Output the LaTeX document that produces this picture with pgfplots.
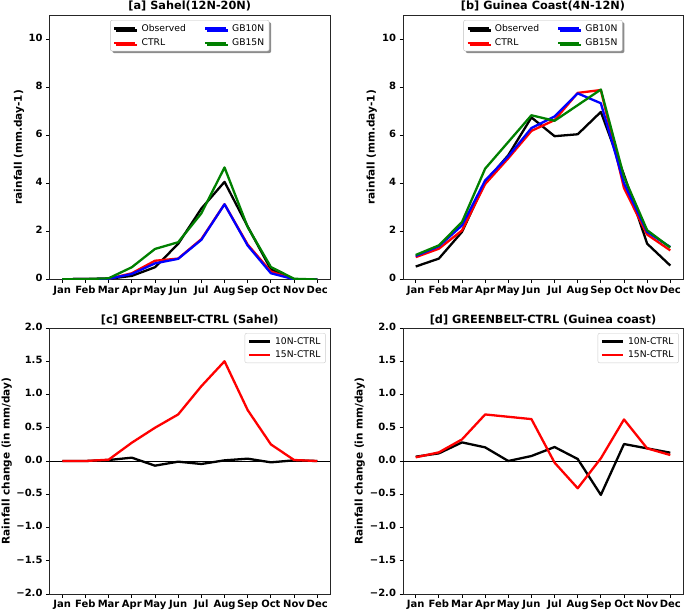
\documentclass[border=0pt]{standalone}
\usepackage{pgfplots}
\pgfplotsset{compat=1.18}
\usepackage{fontspec}
\setmainfont{DejaVu Sans}
\usetikzlibrary{shadows}
\definecolor{mgreen}{RGB}{0,128,0}

\pgfplotsset{
  every axis title shift=0pt,
  base/.style={
    scale only axis,
    xmin=-0.55, xmax=11.55,
    xtick={0,1,2,3,4,5,6,7,8,9,10,11},
    xticklabels={Jan,Feb,Mar,Apr,May,Jun,Jul,Aug,Sep,Oct,Nov,Dec},
    typeset ticklabels with strut,
    tick align=outside, xtick pos=bottom, ytick pos=left,
    major tick length=3.5pt,
    tick style={black, line width=0.8pt},
    axis line style={black!85, line width=0.8pt},
    /pgf/number format/assume math mode=true,
    tick label style={font=\fontsize{10}{12}\selectfont\bfseries},
    xticklabel style={yshift=1.5pt},
    label style={font=\fontsize{10.5}{12}\selectfont\bfseries},
    title style={font=\fontsize{11.3}{13}\selectfont\bfseries, at={(0.5,1)}, anchor=base, yshift=5pt},
    legend cell align=left,
    legend image code/.code={\draw[##1] (0pt,0pt) -- (21pt,0pt);},
    every axis plot/.append style={line width=2.3pt, line join=round},
  },
  toplegend/.style={
    legend columns=2,
    legend style={at={(0.5,0.981)}, anchor=north, draw=black!25, fill=white,
      rounded corners=2pt, font=\fontsize{9.2}{11}\selectfont,
      row sep=2pt,
      /tikz/every odd column/.append style={column sep=3pt},
      /tikz/every even column/.append style={column sep=16pt},
      drop shadow={shadow xshift=2pt, shadow yshift=-2pt, fill=black!45, opacity=1}},
  },
  botlegend/.style={
    legend style={at={(0.985,0.981)}, anchor=north east, draw=black!20, fill=white,
      rounded corners=2pt, font=\fontsize{9.2}{11}\selectfont, row sep=1pt,
      /tikz/every odd column/.append style={column sep=2pt}},
  },
}

\begin{document}
\begin{tikzpicture}
\useasboundingbox (0,0) rectangle (685pt,611pt);

% ---------------- [a] Sahel
\begin{axis}[base, toplegend,
  at={(49.5pt,331.5pt)}, anchor=south west, width=280.5pt, height=264.5pt,
  ymin=0, ymax=11, ytick={0,2,4,6,8,10},
  title={[a] Sahel(12N-20N)},
  ylabel={rainfall (mm.day-1)},
  ylabel style={at={(axis description cs:-0.109,0.5)}, anchor=center},
]
\addlegendimage{black, line width=2.3pt}
\addlegendimage{blue, line width=2.3pt}
\addlegendimage{red, line width=2.3pt}
\addlegendimage{mgreen, line width=2.3pt}
\addplot[black, forget plot] coordinates {(0,0.01) (1,0.02) (2,0.03) (3,0.15) (4,0.51) (5,1.48) (6,2.95) (7,4.06) (8,2.2) (9,0.42) (10,0.01) (11,0.0)};
\addplot[red, forget plot] coordinates {(0,0.01) (1,0.02) (2,0.03) (3,0.26) (4,0.78) (5,0.87) (6,1.68) (7,3.13) (8,1.45) (9,0.33) (10,0.01) (11,0.0)};
\addplot[blue, forget plot] coordinates {(0,0.01) (1,0.02) (2,0.03) (3,0.23) (4,0.67) (5,0.86) (6,1.65) (7,3.13) (8,1.41) (9,0.26) (10,0.01) (11,0.0)};
\addplot[mgreen, forget plot] coordinates {(0,0.01) (1,0.02) (2,0.05) (3,0.51) (4,1.27) (5,1.55) (6,2.75) (7,4.66) (8,2.18) (9,0.52) (10,0.03) (11,0.0)};
\legend{Observed, GB10N, CTRL, GB15N}
\end{axis}

% ---------------- [b] Guinea Coast
\begin{axis}[base, toplegend,
  at={(403pt,331.5pt)}, anchor=south west, width=280pt, height=264.5pt,
  ymin=0, ymax=11, ytick={0,2,4,6,8,10},
  title={[b] Guinea Coast(4N-12N)},
  ylabel={rainfall (mm.day-1)},
  ylabel style={at={(axis description cs:-0.112,0.5)}, anchor=center},
]
\addlegendimage{black, line width=2.3pt}
\addlegendimage{blue, line width=2.3pt}
\addlegendimage{red, line width=2.3pt}
\addlegendimage{mgreen, line width=2.3pt}
\addplot[black, forget plot] coordinates {(0,0.54) (1,0.87) (2,1.98) (3,4.05) (4,5.17) (5,6.74) (6,5.96) (7,6.04) (8,6.97) (9,4.35) (10,1.49) (11,0.58)};
\addplot[red, forget plot] coordinates {(0,0.93) (1,1.28) (2,2.04) (3,3.97) (4,5.04) (5,6.18) (6,6.63) (7,7.76) (8,7.88) (9,3.8) (10,1.87) (11,1.21)};
\addplot[blue, forget plot] coordinates {(0,0.98) (1,1.38) (2,2.25) (3,4.12) (4,5.12) (5,6.3) (6,6.78) (7,7.74) (8,7.33) (9,4.0) (10,1.98) (11,1.35)};
\addplot[mgreen, forget plot] coordinates {(0,1.02) (1,1.42) (2,2.39) (3,4.61) (4,5.72) (5,6.83) (6,6.6) (7,7.25) (8,7.9) (9,4.27) (10,2.05) (11,1.33)};
\legend{Observed, GB10N, CTRL, GB15N}
\end{axis}

% ---------------- [c] GREENBELT-CTRL (Sahel)
\begin{axis}[base, botlegend,
  at={(49.5pt,17pt)}, anchor=south west, width=280.5pt, height=266pt,
  ymin=-2, ymax=2, ytick={-2,-1.5,-1,-0.5,0,0.5,1,1.5,2},
  yticklabels={−2.0,−1.5,−1.0,−0.5,0.0,0.5,1.0,1.5,2.0},
  title={[c] GREENBELT-CTRL (Sahel)},
  ylabel={Rainfall change (in mm/day)},
  ylabel style={at={(axis description cs:-0.152,0.5)}, anchor=center},
]
\addplot[black, line width=0.8pt, forget plot] coordinates {(-0.55,0) (11.55,0)};
\addplot[black] coordinates {(0,0.0) (1,0.0) (2,0.015) (3,0.05) (4,-0.07) (5,-0.01) (6,-0.045) (7,0.01) (8,0.035) (9,-0.02) (10,0.01) (11,0.0)};
\addplot[red] coordinates {(0,0.0) (1,0.0) (2,0.02) (3,0.275) (4,0.5) (5,0.7) (6,1.125) (7,1.5) (8,0.765) (9,0.25) (10,0.015) (11,0.0)};
\legend{10N-CTRL, 15N-CTRL}
\end{axis}

% ---------------- [d] GREENBELT-CTRL (Guinea coast)
\begin{axis}[base, botlegend,
  at={(403pt,17pt)}, anchor=south west, width=280pt, height=266pt,
  ymin=-2, ymax=2, ytick={-2,-1.5,-1,-0.5,0,0.5,1,1.5,2},
  yticklabels={−2.0,−1.5,−1.0,−0.5,0.0,0.5,1.0,1.5,2.0},
  title={[d] GREENBELT-CTRL (Guinea coast)},
  ylabel={Rainfall change (in mm/day)},
  ylabel style={at={(axis description cs:-0.154,0.5)}, anchor=center},
]
\addplot[black, line width=0.8pt, forget plot] coordinates {(-0.55,0) (11.55,0)};
\addplot[black] coordinates {(0,0.065) (1,0.115) (2,0.28) (3,0.205) (4,0.0) (5,0.075) (6,0.21) (7,0.03) (8,-0.51) (9,0.255) (10,0.19) (11,0.125)};
\addplot[red] coordinates {(0,0.055) (1,0.13) (2,0.325) (3,0.70) (4,0.665) (5,0.63) (6,-0.025) (7,-0.41) (8,0.04) (9,0.625) (10,0.19) (11,0.09)};
\legend{10N-CTRL, 15N-CTRL}
\end{axis}
\end{tikzpicture}
\end{document}
